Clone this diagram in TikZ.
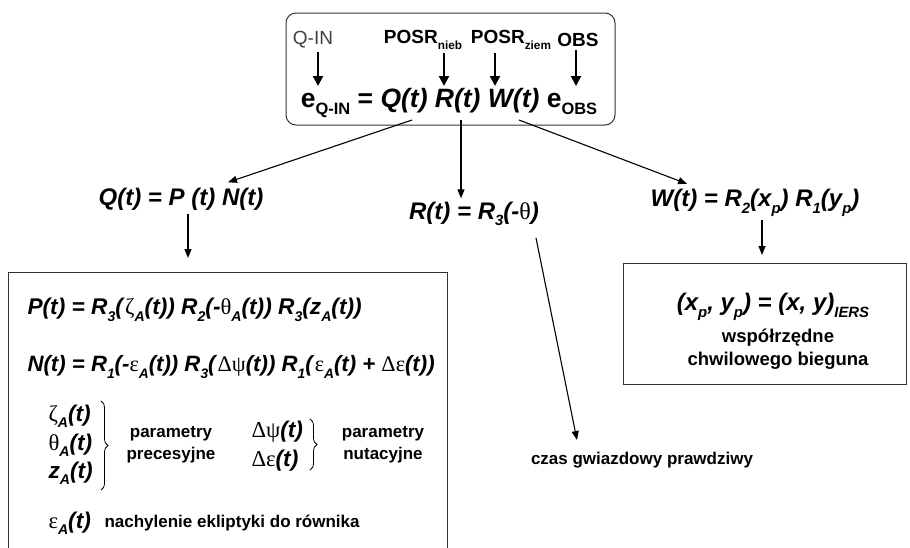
\documentclass[tikz,border=0pt]{standalone}
\usepackage{fontspec}
\setmainfont{Liberation Sans}
\newfontfamily\grk{Liberation Serif}
\usepackage{tikz}
\usetikzlibrary{arrows.meta}
\usetikzlibrary{decorations.pathreplacing}

% small helpers for the formulas
\newcommand{\lo}[1]{\raisebox{-0.28em}{\scalebox{0.62}{#1}}}
\newcommand{\gk}[1]{{\grk\mdseries\upshape #1}}
\newcommand{\fbig}{\fontsize{24}{28}\selectfont\bfseries}
\newcommand{\fform}{\fontsize{22.7}{27}\selectfont\bfseries}
\newcommand{\fmid}{\fontsize{19}{22}\selectfont}
\newcommand{\fsml}{\fontsize{17}{22}\selectfont\bfseries}

\begin{document}
\begin{tikzpicture}[x=1pt,y=-1pt,
        fatarrow/.style={line width=2pt,-{Triangle[length=10pt,width=10pt]}},
        thinarrow/.style={line width=1.1pt,-{Triangle[length=9pt,width=7pt]}},
        frame/.style={draw=black!80,line width=1pt}]
        \useasboundingbox (0,0) rectangle (910,547);

        % Top box.
        \draw[frame, rounded corners=10pt] (286,13) rectangle (615,125);
        \draw (313,40) node[text=black!75] (qin) {\fmid Q-IN}
            (423,40) node (posrn) {\fmid\bfseries POSR\lo{nieb}}
            (511,40) node (posrz) {\fmid\bfseries POSR\lo{ziem}}
            (578,40) node (obs) {\fmid\bfseries OBS}
            (449,103) node (eq) {\fontsize{26.5}{30}\selectfont\bfseries
                e\lo{Q-IN} = \textit{Q(t) R(t) W(t)} e\lo{OBS}};
        \coordinate (aq) at (318,86);
        \coordinate (an) at (444,86);
        \coordinate (az) at (495,86);
        \coordinate (ao) at (576,86);
        \draw[fatarrow] (qin.south -| aq) -- (aq);
        \draw[fatarrow] (posrn.south -| an) -- (an);
        \draw[fatarrow] (posrz.south -| az) -- (az);
        \draw[fatarrow] (obs.south -| ao) -- (ao);

        % Decomposition.
        \draw (181,199) node (qeq) {\fbig\textit{Q(t) = P (t) N(t)}}
            (474,214) node (req) {\fbig\textit{R(t) = R\lo{3}(-}\gk{θ}\textit{)}}
            (755,203) node (weq) {\fbig\textit{W(t) = R\lo{2}(x\lo{p}) R\lo{1}(y\lo{p})}}
            (642,460) node[font=\fsml] (czas) {czas gwiazdowy prawdziwy};
        \coordinate (fq) at (412,120);
        \coordinate (fr) at (461,120);
        \coordinate (fw) at (519,120);
        \coordinate (rs) at (536,238);
        \coordinate (ct) at (577,440);
        \draw[thinarrow] (fq) -- ([shift={(47,-2)}]qeq.north);
        \draw[thinarrow] (fr) -- (fr |- req.north);
        \draw[thinarrow] (fw) -- ([shift={(40,-2)}]weq.north west);
        \draw[thinarrow] (rs) -- (ct);

        % Precession / nutation box.
        \draw[frame] (8,548) |- (447,272) -- (447,548);
        \coordinate (pb) at (188,258);
        \draw[thinarrow] (qeq.south -| pb) -- (pb);
        \draw (24,310) node[anchor=west] (pe) {\fform\textit{P(t) = R\lo{3}(}\gk{ζ}\textit{\lo{A}(t)) R\lo{2}(-}\gk{θ}\textit{\lo{A}(t)) R\lo{3}(z\lo{A}(t))}}
            (24,367) node[anchor=west] (ne) {\fontsize{22.2}{27}\selectfont\bfseries\textit{N(t) = R\lo{1}(-}\gk{ε}\textit{\lo{A}(t)) R\lo{3}(}\gk{Δψ}\textit{(t)) R\lo{1}(}\gk{ε}\textit{\lo{A}(t) + }\gk{Δε}\textit{(t))}}
            (45,416) node[anchor=west] (zeta) {\fform\gk{ζ}\textit{\lo{A}(t)}}
            (45,445) node[anchor=west] (theta) {\fform\gk{θ}\textit{\lo{A}(t)}}
            (45,473) node[anchor=west] (zz) {\fform\textit{z\lo{A}(t)}}
            (171,445) node[font=\fsml, align=center] (prec) {parametry\\precesyjne}
            (248,432) node[anchor=west] (dpsi) {\fform\gk{Δψ}\textit{(t)}}
            (248,461) node[anchor=west] (deps) {\fform\gk{Δε}\textit{(t)}}
            (383,445) node[font=\fsml, align=center] (nut) {parametry\\nutacyjne}
            (45,523) node[anchor=west] (epsa) {\fform\gk{ε}\textit{\lo{A}(t)}}
            (101,523) node[anchor=west, font=\fsml] (nach) {nachylenie ekliptyki do równika};
        \draw[line width=0.8pt, decorate, decoration={brace,amplitude=7pt}] (101,401) -- (101,490);
        \draw[line width=0.8pt, decorate, decoration={brace,amplitude=7pt}] (310,419) -- (310,470);

        % Polar motion box.
        \draw[frame] (623,263) rectangle (906,384);
        \coordinate (wb) at (762,255);
        \draw[thinarrow] (weq.south -| wb) -- (wb);
        \draw (773,307) node (pole) {\fbig\textit{(x\lo{p}, y\lo{p}) = (x, y)\lo{IERS}}}
            (778,349) node[align=center, font=\fontsize{18.5}{23}\selectfont\bfseries] (wsp) {współrzędne\\chwilowego bieguna};
\end{tikzpicture}
\end{document}
